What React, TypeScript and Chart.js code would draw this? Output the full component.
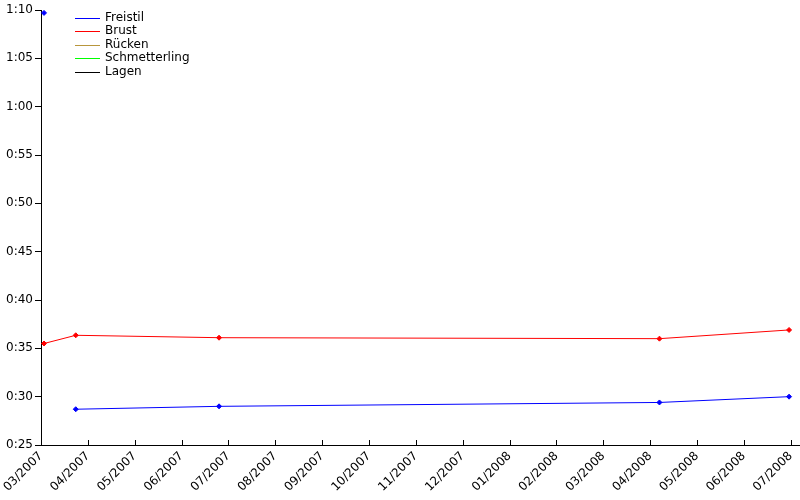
import React, { useEffect, useRef } from "react";
import { Chart, registerables } from "chart.js";

Chart.register(...registerables);

const monthLabels = [
  "03/2007", "04/2007", "05/2007", "06/2007", "07/2007", "08/2007", "09/2007",
  "10/2007", "11/2007", "12/2007", "01/2008", "02/2008", "03/2008", "04/2008",
  "05/2008", "06/2008", "07/2008",
];

const freistilDates = ["2007-03-03", "2007-03-24", "2007-06-25", "2008-04-07", "2008-06-30"];
const freistilTimes = [69.7, 28.7, 29.0, 29.4, 30.0];

const brustDates = ["2007-03-03", "2007-03-24", "2007-06-25", "2008-04-07", "2008-06-30"];
const brustTimes = [35.5, 36.35, 36.1, 36.0, 36.9];

const seriesNames = ["Freistil", "Brust", "Rücken", "Schmetterling", "Lagen"];
const seriesColors = ["#0000ff", "#ff0000", "#b8963c", "#00ff00", "#000000"];

const yTickValues = [25, 30, 35, 40, 45, 50, 55, 60, 65, 70];

const FONT = "DejaVu Sans";

function monthIndex(d: string): number {
  const [y, m, day] = d.split("-").map(Number);
  const dim = new Date(y, m, 0).getDate();
  return (y - 2007) * 12 + (m - 3) + (day - 1) / dim;
}

function fmtTime(sec: number): string {
  const m = Math.floor(sec / 60);
  const s = Math.round(sec - m * 60);
  return `${m}:${s < 10 ? "0" : ""}${s}`;
}

const legendPlugin = {
  id: "customLegend",
  afterDraw(chart: any) {
    const ctx = chart.ctx;
    ctx.save();
    ctx.font = `12px "${FONT}"`;
    ctx.textBaseline = "middle";
    ctx.textAlign = "left";
    seriesNames.forEach((name, i) => {
      const y = 17.5 + i * 13.5;
      ctx.strokeStyle = seriesColors[i];
      ctx.lineWidth = 1;
      ctx.beginPath();
      ctx.moveTo(75, Math.round(y) + 0.5);
      ctx.lineTo(100, Math.round(y) + 0.5);
      ctx.stroke();
      ctx.fillStyle = "#000";
      ctx.fillText(name, 105, y);
    });
    ctx.restore();
  },
};

const xTickPlugin = {
  id: "xInnerTicks",
  afterDraw(chart: any) {
    const ctx = chart.ctx;
    const xs = chart.scales.x;
    const bottom = chart.chartArea.bottom;
    ctx.save();
    ctx.strokeStyle = "#000";
    ctx.lineWidth = 1;
    monthLabels.forEach((_, i) => {
      const px = Math.round(xs.getPixelForValue(i)) + 0.5;
      ctx.beginPath();
      ctx.moveTo(px, bottom);
      ctx.lineTo(px, bottom - 5);
      ctx.stroke();
    });
    ctx.restore();
  },
};

export default function App() {
  const ref = useRef<HTMLCanvasElement | null>(null);

  useEffect(() => {
    document.body.style.margin = "0";
    if (!ref.current) return;
    const mk = (dates: string[], times: number[]) =>
      dates.map((d, i) => ({ x: monthIndex(d), y: times[i] }));

    const datasets: any[] = seriesNames.map((name, i) => ({
      label: name,
      data: i === 0 ? mk(freistilDates, freistilTimes) : i === 1 ? mk(brustDates, brustTimes) : [],
      borderColor: seriesColors[i],
      backgroundColor: seriesColors[i],
      borderWidth: 1,
      pointStyle: "rectRot",
      pointRadius: 2.5,
      pointBorderWidth: 1,
      tension: 0,
      fill: false,
      clip: false,
    }));
    // Freistil: first point not connected to the rest
    datasets[0].segment = {
      borderColor: (c: any) => (c.p0DataIndex === 0 ? "rgba(0,0,0,0)" : undefined),
    };

    const chart = new Chart(ref.current, {
      type: "line",
      data: { datasets },
      plugins: [legendPlugin, xTickPlugin],
      options: {
        responsive: false,
        animation: false,
        layout: { autoPadding: false, padding: { top: 10, right: 0, left: 0, bottom: 0 } },
        plugins: { legend: { display: false }, tooltip: { enabled: false } },
        scales: {
          x: {
            type: "linear",
            min: 0,
            max: 16.2,
            afterBuildTicks: (s: any) => {
              s.ticks = monthLabels.map((_, i) => ({ value: i }));
            },
            afterFit: (s: any) => {
              s.height = 55;
              s.paddingLeft = 0;
              s.paddingRight = 0;
            },
            ticks: {
              autoSkip: false,
              maxRotation: 45,
              minRotation: 45,
              padding: 4,
              color: "#000",
              font: { family: FONT, size: 12 },
              callback: (v: any) => monthLabels[Math.round(Number(v))] ?? "",
            },
            grid: { display: true, drawOnChartArea: false, drawTicks: false, tickLength: 0 },
            border: { display: true, color: "#000", width: 1 },
          },
          y: {
            type: "linear",
            min: 25,
            max: 70,
            afterBuildTicks: (s: any) => {
              s.ticks = yTickValues.map((v) => ({ value: v }));
            },
            afterFit: (s: any) => {
              s.width = 41;
              s.paddingTop = 0;
              s.paddingBottom = 0;
            },
            ticks: {
              padding: 2,
              color: "#000",
              font: { family: FONT, size: 12 },
              callback: (v: any) => fmtTime(Number(v)),
            },
            grid: {
              display: true,
              drawOnChartArea: false,
              drawTicks: true,
              tickLength: 6,
              color: "#000",
              tickColor: "#000",
            },
            border: { display: true, color: "#000", width: 1 },
          },
        },
      },
    });
    return () => chart.destroy();
  }, []);

  return (
    <div style={{ width: 800, height: 500, position: "relative" }}>
      <canvas ref={ref} width={800} height={500} style={{ display: "block" }} />
    </div>
  );
}
